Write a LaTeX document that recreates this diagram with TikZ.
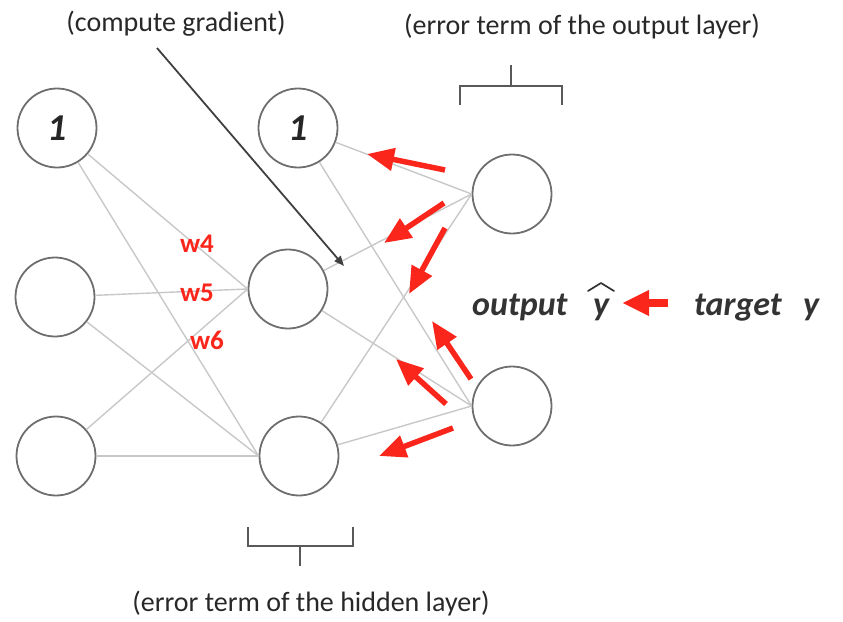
\documentclass[tikz,border=0pt]{standalone}
\usepackage{fontspec}
\setmainfont{Carlito}
\usetikzlibrary{arrows.meta}
\definecolor{arrred}{RGB}{250,38,28}
\definecolor{linegray}{RGB}{200,200,200}
\definecolor{circgray}{RGB}{110,110,110}
\definecolor{txtgray}{RGB}{40,40,40}
\begin{document}
\begin{tikzpicture}[x=1pt,y=-1pt,
  neuron/.style={circle,draw=circgray,line width=1.8pt,minimum size=79pt,inner sep=0pt,
    font=\fontsize{38}{38}\selectfont\bfseries\itshape,text=black!85},
  conn/.style={draw=linegray,line width=1.4pt},
  redarr/.style={draw=arrred,line width=5.5pt,-{Triangle[length=27pt,width=22pt]},color=arrred},
  note/.style={font=\fontsize{28}{30}\selectfont,text=txtgray,inner sep=0pt},
  wlab/.style={font=\fontsize{27}{28}\selectfont\bfseries,text=arrred,inner sep=1pt},
  big/.style={font=\fontsize{34}{36}\selectfont\bfseries\itshape,text=black!80,inner sep=0pt},
  brack/.style={draw=black!65,line width=1.8pt}]
\useasboundingbox (0,0) rectangle (843,621);
% neurons
\node[neuron] (i1) at (57,128) {1};
\node[neuron] (i2) at (55,297) {};
\node[neuron] (i3) at (56,456) {};
\node[neuron] (h1) at (298,128) {1};
\node[neuron] (h2) at (288,289) {};
\node[neuron] (h3) at (299,456) {};
\node[neuron] (o1) at (512,194) {};
\node[neuron] (o2) at (512,406) {};
% connections input -> hidden
\foreach \a in {i1,i2,i3}{
  \draw[conn] (\a) -- (h2.west);
  \draw[conn] (\a) -- (h3.west);
}
% connections hidden -> output
\foreach \a in {h1,h2,h3}{
  \draw[conn] (\a) -- (o1.west);
  \draw[conn] (\a) -- (o2.west);
}
% weight labels
\node[wlab] (w4) at (197,244) {w4};
\node[wlab] (w5) at (197,293) {w5};
\node[wlab] (w6) at (207,340) {w6};
% compute gradient
\node[note] (cg) at (176,24) {(compute gradient)};
\coordinate (cgs) at (157,48);
\coordinate (cge) at (344,266);
\draw[draw=black!75,line width=1.8pt,-{Triangle[length=10pt,width=8pt]}] (cgs) -- (cge);
% error term labels
\node[note] (eo) at (582,27) {(error term of the output layer)};
\node[note] (eh) at (311,604) {(error term of the hidden layer)};
% brackets
\draw[brack] (460,105) -- (460,86) -- (562,86) -- (562,105);
\draw[brack] (511,86) -- (511,65);
\draw[brack] (248,527) -- (248,546) -- (353,546) -- (353,527);
\draw[brack] (300,546) -- (300,566);
% red backprop arrows
\coordinate (r1s) at (445,170); \coordinate (r1e) at (367,154);
\coordinate (r2s) at (444,203); \coordinate (r2e) at (384,243);
\coordinate (r3s) at (445,228); \coordinate (r3e) at (409,294);
\coordinate (r4s) at (471,379); \coordinate (r4e) at (432,321);
\coordinate (r5s) at (446,404); \coordinate (r5e) at (396,359);
\coordinate (r6s) at (453,428); \coordinate (r6e) at (379,456);
\foreach \s/\e in {r1s/r1e,r2s/r2e,r3s/r3e,r4s/r4e,r5s/r5e,r6s/r6e}
  \draw[redarr] (\s) -- (\e);
% output / target
\node[big,anchor=base west] (out) at (472,315) {output};
\node[big,anchor=base] (yh) at (601,315) {y};
\path (yh.base) ++(-13,-24) coordinate (hl) ++(13,-8) coordinate (ht) ++(13,8) coordinate (hr);
\draw[draw=black!80,line width=1.7pt,line join=round,line cap=round] (hl) -- (ht) -- (hr);
\node[big,anchor=base west] (tgt) at (694,315) {target};
\node[big,anchor=base] (yy) at (811,315) {y};
\coordinate (ta) at (668,303);
\coordinate (tb) at (622,303);
\draw[draw=arrred,line width=8pt,-{Triangle[length=27pt,width=24pt]}] (ta) -- (tb);
\end{tikzpicture}
\end{document}
